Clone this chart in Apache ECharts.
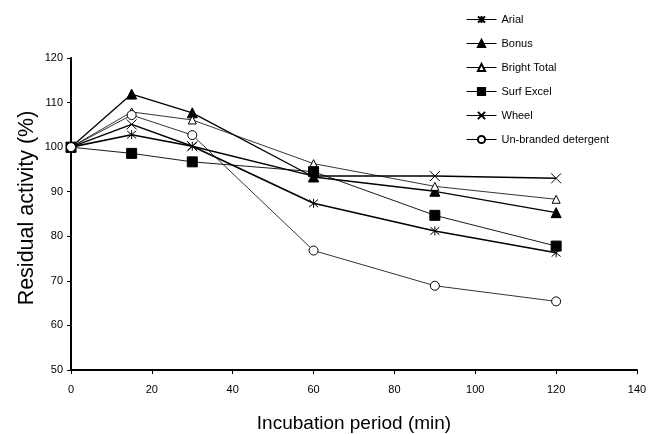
<!DOCTYPE html>
<html>
<head>
<meta charset="utf-8">
<script src="https://cdn.jsdelivr.net/npm/echarts@6/dist/echarts.min.js"></script>
<style>html,body{margin:0;padding:0;background:#fff}#c{width:661px;height:434px}</style>
</head>
<body>
<div id="c"></div>
<script>
const times = [0, 15, 30, 60, 90, 120];
const seriesNames = ['Arial', 'Bonus', 'Bright Total', 'Surf Excel', 'Wheel', 'Un-branded detergent'];
const arial = [100, 102.8, 100.2, 87.4, 81.2, 76.3];
const bonus = [100, 111.9, 107.7, 93.3, 90.1, 85.3];
const brightTotal = [100, 107.9, 106.1, 96.3, 91.2, 88.3];
const surfExcel = [100, 98.6, 96.7, 94.5, 84.7, 77.8];
const wheel = [100, 105.1, 100.2, 93.5, 93.5, 93.0];
const unbranded = [100, 107.2, 102.7, 76.8, 68.9, 65.4];
const xTicks = [0, 20, 40, 60, 80, 100, 120, 140];
const yTicks = [50, 60, 70, 80, 90, 100, 110, 120];

const FONT = 'Arial, "Liberation Sans", sans-serif';
const asterisk = 'path://M0,0L10,10M10,0L0,10M5,-1L5,11';
const cross = 'path://M0,0L10,10M10,0L0,10';

const styles = [
  {symbol: asterisk, size: 9, fill: '#000', lw: 1.6},
  {symbol: 'triangle', size: 10, fill: '#000', lw: 1.3},
  {symbol: 'triangle', size: 8, fill: '#fff', lw: 0.8},
  {symbol: 'rect', size: 10, fill: '#000', lw: 0.9},
  {symbol: cross, size: 10, fill: '#000', lw: 1.5},
  {symbol: 'circle', size: 9, fill: '#fff', lw: 0.8}
];
const values = [arial, bonus, brightTotal, surfExcel, wheel, unbranded];

const series = seriesNames.map((name, i) => ({
  name: name,
  type: 'line',
  data: times.map((t, j) => [t, values[i][j]]),
  symbol: styles[i].symbol,
  symbolSize: styles[i].size,
  showAllSymbol: true,
  lineStyle: {color: '#000', width: styles[i].lw},
  itemStyle: {color: styles[i].fill, borderColor: '#000', borderWidth: 1},
  emphasis: {disabled: true},
  animation: false,
  z: 2 + i
}));

const chart = echarts.init(document.getElementById('c'), null, {renderer: 'canvas'});
chart.setOption({
  backgroundColor: '#fff',
  animation: false,
  grid: {left: 71, right: 24, top: 58, bottom: 64, containLabel: false, outerBoundsMode: 'none'},
  legend: {
    orient: 'vertical',
    left: 461,
    top: 9,
    itemWidth: 30,
    itemHeight: 9,
    itemGap: 13,
    lineStyle: {width: 1},
    textStyle: {fontFamily: FONT, fontSize: 11, color: '#000'},
    data: seriesNames
  },
  xAxis: {
    type: 'value',
    min: xTicks[0], max: xTicks[xTicks.length - 1], interval: 20,
    name: 'Incubation period (min)',
    nameLocation: 'middle',
    nameGap: 44,
    nameMoveOverlap: false,
    nameTextStyle: {fontFamily: FONT, fontSize: 19, color: '#000'},
    axisLine: {lineStyle: {color: '#000', width: 2}},
    axisTick: {show: true, inside: false, length: 4, lineStyle: {color: '#000', width: 1}},
    axisLabel: {fontFamily: FONT, fontSize: 11, color: '#000', margin: 14},
    splitLine: {show: false}
  },
  yAxis: {
    type: 'value',
    min: yTicks[0], max: yTicks[yTicks.length - 1], interval: 10,
    name: 'Residual activity (%)',
    nameLocation: 'middle',
    nameGap: 33,
    nameMoveOverlap: false,
    nameRotate: 90,
    nameTextStyle: {fontFamily: FONT, fontSize: 21.5, color: '#000', padding: [0, 0, 0, 12]},
    axisLine: {show: true, lineStyle: {color: '#000', width: 2}},
    axisTick: {show: true, inside: false, length: 4, lineStyle: {color: '#000', width: 1}},
    axisLabel: {fontFamily: FONT, fontSize: 11, color: '#000', margin: 8},
    splitLine: {show: false}
  },
  series: series
});
</script>
</body>
</html>
